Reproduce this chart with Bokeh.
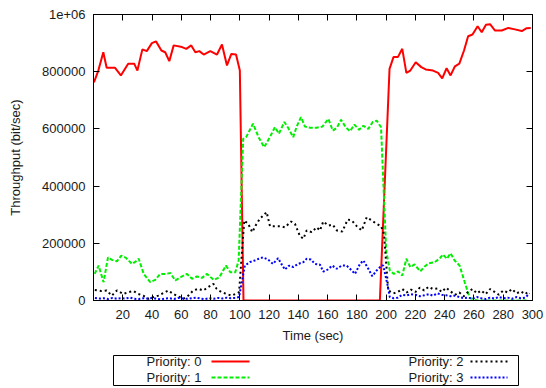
from bokeh.plotting import figure
from bokeh.models import Range1d, FixedTicker, LinearAxis, BasicTickFormatter, CustomJSTickFormatter
from bokeh.layouts import column
from bokeh.core.properties import value
from bokeh.embed import file_html
from bokeh.resources import INLINE

# ---------------- data ----------------
t_p0 = [0.3, 3.3, 6.7, 9, 14.6, 18.7, 23.7, 27.8, 30, 33.4, 36.4, 39.9, 42.7, 46.4, 49,
        51.8, 54.8, 60.5, 63.4, 66.8, 69.6, 72.3, 75.3, 79.8, 84.4, 87.8, 91.2, 94.2,
        97.4, 100.0, 102.5, 150, 195.7, 202.3, 205, 208, 211, 213.8, 216.5, 220.2, 224,
        227, 232, 235.5, 238.3, 241.3, 244, 247, 250, 253.2, 256, 259, 262.5, 265.3,
        268.2, 271, 274.4, 279, 283.5, 288, 292.7, 296, 298.8]
y_p0 = [763000, 804000, 868000, 814000, 814000, 787000, 828000, 828000, 804000, 878000,
        872000, 900000, 906000, 874000, 868000, 837000, 892000, 886000, 880000, 892000,
        868000, 872000, 860000, 872000, 860000, 895000, 822000, 862000, 860000, 804000,
        0, 0, 0, 810000, 851000, 851000, 880000, 796000, 804000, 833000, 816000, 808000,
        804000, 796000, 777000, 812000, 787000, 819000, 828000, 874000, 924000, 930000,
        959000, 938000, 964000, 966000, 944000, 944000, 953000, 948000, 942000, 952000,
        953000]

t_p1 = [0.8, 3.5, 6.9, 9.9, 12.6, 16, 19, 22.2, 26.3, 29, 30.9, 34.3, 38.8, 42.2, 45.6,
        49.5, 52.5, 55.9, 59.3, 63.9, 67.3, 70.7, 74.1, 77.6, 82.1, 86, 90.5, 93.5, 96.9,
        99.2, 102.3, 104.5, 109, 113, 116.6, 120.5, 124, 126.7, 130.4, 133, 136.5, 138.8,
        141.8, 144.5, 148, 152.5, 156.4, 160.5, 163.5, 166.3, 169.2, 172.6, 175.3, 178.3,
        181.5, 184.4, 187.8, 190.8, 193.5, 196.5, 200, 202.5, 205.3, 208.2, 211, 213.8,
        216.5, 219.4, 223.3, 226.3, 229.2, 233.1, 236.5, 238.8, 241.5, 244, 246.8, 250.2,
        253.7, 257.1, 262, 270, 280, 290, 296]
y_p1 = [93000, 122000, 64000, 151000, 142000, 137000, 157000, 149000, 128000, 137000,
        146000, 93000, 64000, 72000, 93000, 93000, 96000, 70000, 81000, 93000, 76000,
        84000, 79000, 93000, 72000, 81000, 122000, 99000, 99000, 140000, 565000, 573000,
        618000, 569000, 536000, 571000, 606000, 583000, 624000, 604000, 571000, 608000,
        641000, 608000, 604000, 604000, 608000, 635000, 594000, 604000, 632000, 604000,
        592000, 615000, 597000, 611000, 600000, 624000, 629000, 606000, 175000, 105000,
        93000, 102000, 87000, 146000, 117000, 126000, 102000, 119000, 130000, 134000,
        146000, 161000, 146000, 165000, 140000, 122000, 64000, 9000, 0, 0, 0, 0, 0]

t_p2 = [0.9, 5.4, 9, 12.5, 16, 20.4, 23.8, 27.2, 30.6, 34, 37.5, 40.9, 44.3, 47.7, 51.1,
        54.5, 58, 61.4, 64.8, 68.2, 71.6, 75, 78.5, 81.9, 84.1, 87.5, 90.9, 94.4, 97.1,
        99.5, 103, 105.7, 108.5, 110.8, 113.7, 116.7, 118.3, 120.6, 124.5, 127.4, 130.8,
        135, 137.7, 141.1, 143.4, 145.7, 149.1, 152.5, 154.8, 157, 160.5, 163.5, 166.3,
        170, 173.7, 176.5, 179.9, 183.3, 186.7, 190.1, 193.5, 196.5, 198.5, 201.4, 205,
        208, 211, 214, 217, 220, 223, 226, 229, 232, 235, 238, 241, 244, 247, 250, 253,
        256, 259, 262, 265, 268, 271, 274, 277, 280, 283, 286, 289, 292, 295, 298]
y_p2 = [37000, 33000, 35000, 17000, 35000, 23000, 29000, 33000, 23000, 17000, 6000, 12000,
        17000, 26000, 35000, 23000, 14000, 6000, 17000, 35000, 41000, 35000, 47000, 58000,
        41000, 29000, 23000, 17000, 23000, 29000, 280000, 268000, 239000, 262000, 286000,
        300000, 309000, 260000, 260000, 260000, 256000, 276000, 268000, 225000, 216000,
        245000, 239000, 256000, 245000, 276000, 262000, 265000, 245000, 241000, 283000,
        280000, 260000, 245000, 291000, 280000, 268000, 260000, 233000, 35000, 25000,
        30000, 40000, 28000, 38000, 30000, 45000, 35000, 48000, 40000, 42000, 30000, 45000,
        32000, 20000, 28000, 15000, 30000, 40000, 25000, 35000, 22000, 40000, 30000, 20000,
        35000, 28000, 40000, 25000, 32000, 22000, 35000]

t_p3 = [1, 4, 7, 10, 13, 16, 19, 22, 25, 28, 31, 34, 37, 40, 43, 46, 49, 52, 55, 58, 61,
        64, 67, 70, 73, 76, 79, 82, 85, 88, 91, 94, 97, 99.5, 103.4, 106.8, 110.2, 113,
        115.9, 119.3, 122.7, 126.2, 128.4, 130.8, 133.5, 136.5, 139.9, 143.4, 145.7, 148.6,
        151.4, 154.8, 157, 160, 163.2, 166.2, 169.6, 173, 176.5, 178.7, 182.1, 184.4, 187.8,
        190.5, 193.5, 196.9, 198, 200.8, 202.5, 205, 208, 211, 214, 217, 220, 223, 226,
        229, 232, 235, 238, 241, 244, 247, 250, 253, 256, 259, 262, 265, 268, 271, 274, 277,
        280, 283, 286, 289, 292, 295, 298]
y_p3 = [9000, 7000, 8000, 5000, 9000, 6000, 8000, 7000, 10000, 6000, 5000, 8000, 7000,
        9000, 6000, 4000, 7000, 8000, 5000, 9000, 7000, 6000, 8000, 10000, 7000, 5000, 8000,
        6000, 9000, 7000, 10000, 8000, 9000, 12000, 122000, 134000, 140000, 146000, 151000,
        143000, 128000, 148000, 128000, 108000, 122000, 117000, 128000, 134000, 146000,
        143000, 128000, 125000, 101000, 108000, 122000, 111000, 122000, 122000, 105000,
        93000, 128000, 140000, 111000, 85000, 105000, 122000, 122000, 58000, 12000, 8000,
        10000, 20000, 18000, 22000, 20000, 15000, 18000, 22000, 17000, 25000, 20000, 18000,
        15000, 17000, 12000, 8000, 10000, 6000, 12000, 8000, 5000, 10000, 7000, 12000, 8000,
        10000, 6000, 12000, 8000, 10000, 25000]

x_ticks = [20, 40, 60, 80, 100, 120, 140, 160, 180, 200, 220, 240, 260, 280, 300]
y_ticks = [0, 200000, 400000, 600000, 800000, 1000000]
y_tick_labels = ["0", "200000", "400000", "600000", "800000", "1e+06"]
legend_labels = ["Priority: 0", "Priority: 1", "Priority: 2", "Priority: 3"]

FONT = "Liberation Sans"
FS = "13px"
TXT = "#1a1a1a"

# ---------------- main plot ----------------
p = figure(width=546, height=348, x_range=Range1d(0, 300), y_range=Range1d(0, 1000000),
           output_backend="svg", toolbar_location=None,
           min_border_left=93, min_border_right=14, min_border_top=14, min_border_bottom=48)
p.grid.visible = False
p.outline_line_color = "black"
p.outline_line_width = 1
p.background_fill_color = "white"
p.border_fill_color = "white"

p.line(t_p0, y_p0, line_color="#ff0000", line_width=2)
p.line(t_p1, y_p1, line_color="#00ee00", line_width=2, line_dash="4 2")
p.line(t_p2, y_p2, line_color="#000000", line_width=2, line_dash="2 3")
p.line(t_p3, y_p3, line_color="#0000ff", line_width=2, line_dash="2 2")

xa = p.xaxis[0]
xa.ticker = FixedTicker(ticks=x_ticks)
xa.axis_label = "Time (sec)"
ya = p.yaxis[0]
ya.ticker = FixedTicker(ticks=y_ticks)
ya.formatter = BasicTickFormatter(use_scientific=False)
ya.major_label_overrides = dict(zip(y_ticks, y_tick_labels))
ya.axis_label = "Throughput (bit/sec)"

for ax in (xa, ya):
    ax.major_tick_in = 6
    ax.major_tick_out = 0
    ax.minor_tick_line_color = None
    ax.axis_line_color = "black"
    ax.major_tick_line_color = "black"
    ax.major_label_text_font = FONT
    ax.major_label_text_font_size = FS
    ax.major_label_text_color = TXT
    ax.axis_label_text_font = FONT
    ax.axis_label_text_font_size = FS
    ax.axis_label_text_font_style = "normal"
    ax.axis_label_text_color = TXT
xa.major_label_standoff = 9
xa.axis_label_standoff = 6
ya.major_label_standoff = 8
ya.axis_label_standoff = 16

blank = CustomJSTickFormatter(code="return ''")
top = LinearAxis(ticker=FixedTicker(ticks=x_ticks), formatter=blank,
                 major_tick_in=6, major_tick_out=0, minor_tick_line_color=None,
                 major_label_standoff=0)
right = LinearAxis(ticker=FixedTicker(ticks=y_ticks), formatter=blank,
                   major_tick_in=6, major_tick_out=0, minor_tick_line_color=None,
                   major_label_standoff=0)
p.add_layout(top, "above")
p.add_layout(right, "right")

# ---------------- legend (gnuplot-style box below) ----------------
# the column aligns this figure's frame with the main frame (page x 93..532),
# so the range is given in page pixels
lg = figure(width=546, height=40, x_range=Range1d(93, 532), y_range=Range1d(40, 0),
            output_backend="svg", toolbar_location=None, min_border=0,
            x_axis_type=None, y_axis_type=None)
lg.grid.visible = False
lg.outline_line_color = None
lg.quad(left=113, right=518, top=7, bottom=37, fill_color=None, line_color="black", line_width=1)
lg.text(x=[201, 201, 463, 463], y=[13, 29, 13, 29], text=legend_labels,
        text_align="right", text_baseline="middle", text_font=value(FONT),
        text_font_size=FS, text_color=TXT)
colors = ["#ff0000", "#00ee00", "#000000", "#0000ff"]
dashes = ["solid", "4 2", "2 3", "2 2"]
sx0 = [211, 211, 470, 470]
sx1 = [249, 249, 507, 507]
sy = [13, 29, 13, 29]
for i in range(4):
    lg.line([sx0[i], sx1[i]], [sy[i], sy[i]], line_color=colors[i], line_width=2,
            line_dash=dashes[i])

layout = column(p, lg, spacing=0)
open("out.html", "w").write(file_html(layout, INLINE))
